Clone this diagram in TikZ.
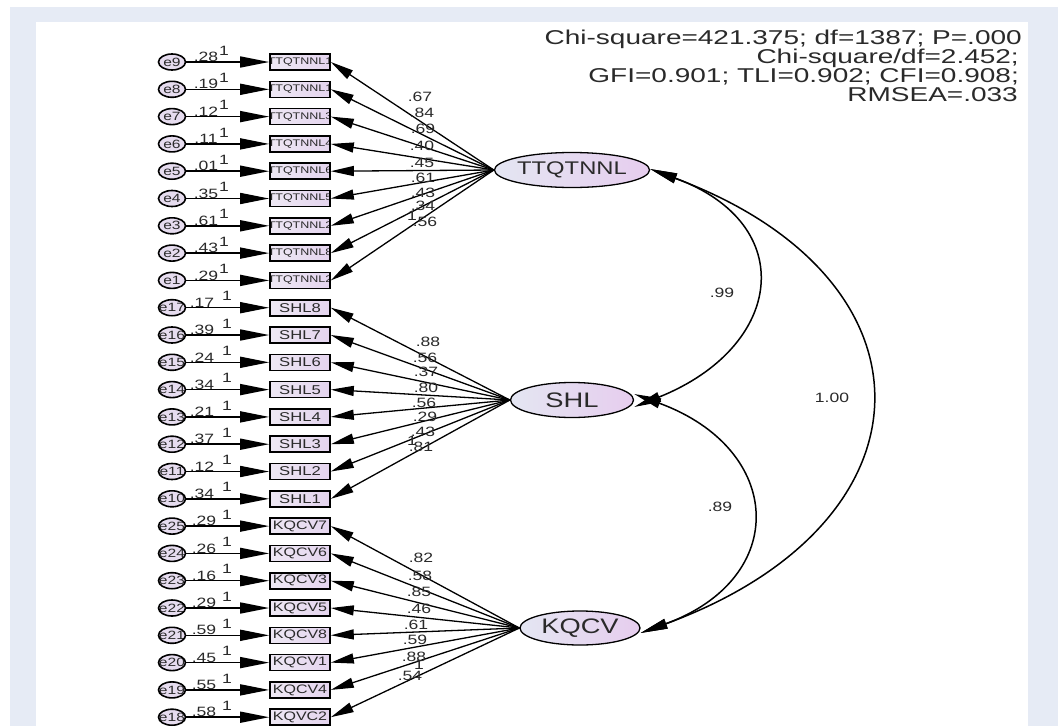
\documentclass[tikz,border=0pt]{standalone}
\usepackage{fontspec}
\usetikzlibrary{shapes.geometric,arrows.meta}
\newfontfamily\af[FakeStretch=1.3]{Liberation Sans}
\newfontfamily\hf[FakeStretch=1.4]{Liberation Sans}
\newcommand\fsz[2]{\af\fontsize{#1}{#2}\selectfont}
\definecolor{band}{HTML}{E6EBF5}
\definecolor{latl}{HTML}{E4E6F2}
\definecolor{latr}{HTML}{E6CDEE}
\definecolor{boxl}{HTML}{EEE8F4}
\definecolor{boxr}{HTML}{E4D4EE}
\definecolor{errf}{HTML}{E6DCEF}
\definecolor{ink}{HTML}{2A2A2A}
\tikzset{
  err/.style={ellipse, draw, line width=1.6pt, fill=errf, minimum width=27pt, minimum height=16pt, inner sep=0pt,
    path picture={\node[font=\fsz{12}{12}, text=ink, inner sep=0pt] at (path picture bounding box.center) {#1};}},
  obs/.style={rectangle, draw, line width=1.6pt, left color=boxl, right color=boxr, minimum width=60pt, minimum height=16pt, inner sep=0pt,
    path picture={\node[text=ink, inner sep=0pt] at (path picture bounding box.center) {#1};}},
  lat/.style={ellipse, draw, line width=1.3pt, left color=latl, right color=latr, minimum width=125pt, minimum height=35pt, inner sep=0pt, text=ink},
  etip/.style={-{Triangle[length=29pt,width=11pt]}, line width=1.5pt},
  ltip/.style={-{Triangle[length=23pt,width=10pt]}, line width=1.3pt},
  ctip/.style={{Triangle[length=27pt,width=10pt]}-{Triangle[length=27pt,width=10pt]}, line width=1.5pt},
  num/.style={font=\fsz{13.5}{14}, text=ink, inner sep=0pt},
  hdr/.style={anchor=base east, font=\hf\fontsize{20}{20}\selectfont, text=ink, inner sep=0pt},
}
\begin{document}
\begin{tikzpicture}[x=1pt,y=-1pt]
\useasboundingbox (0,0) rectangle (1058,726);
\fill[band] (10,7) rectangle (1058,726);
\fill[white] (36,22) rectangle (1028,726);

% header
\node[hdr] (h1) at (1022,44) {Chi-square=421.375; df=1387; P=.000};
\node[hdr] (h2) at (1019,63) {Chi-square/df=2.452;};
\node[hdr] (h3) at (1019,82) {GFI=0.901; TLI=0.902; CFI=0.908;};
\node[hdr] (h4) at (1018,101) {RMSEA=.033};

% latent
\node[lat, font=\fsz{18.3}{19}] (T) at (572,170) {TTQTNNL};
\node[lat, font=\fsz{21}{21}, minimum width=123pt] (S) at (572,400) {SHL};
\node[lat, font=\fsz{21}{21}, minimum width=120pt, minimum height=34pt] (K) at (580,628) {KQCV};

% TTQTNNL indicators
\foreach \k/\e/\b/\v in {0/e9/TTQTNNL1/.28, 1/e8/TTQTNNL1/.19, 2/e7/TTQTNNL3/.12, 3/e6/TTQTNNL4/.11, 4/e5/TTQTNNL6/.01, 5/e4/TTQTNNL5/.35, 6/e3/TTQTNNL2/.61, 7/e2/TTQTNNL8/.43, 8/e1/TTQTNNL2/.29}{
  \pgfmathsetmacro\yy{62+27.3*\k}
  \node[err=\e] (e\k) at (172,\yy) {};
  \node[obs={\fsz{9.6}{10}\b}] (b\k) at (300,\yy) {};
  \draw[etip] (e\k) -- (b\k);
  \draw[ltip] (T.west) -- (b\k.east);
  \node[num] at (206,\yy-5) {\v};
  \node[num] at (224,\yy-11.5) {1};
}
% SHL indicators
\foreach \k/\e/\b/\v in {9/e17/SHL8/.17, 10/e16/SHL7/.39, 11/e15/SHL6/.24, 12/e14/SHL5/.34, 13/e13/SHL4/.21, 14/e12/SHL3/.37, 15/e11/SHL2/.12, 16/e10/SHL1/.34}{
  \pgfmathsetmacro\yy{62+27.3*\k}
  \node[err=\e] (e\k) at (172,\yy) {};
  \node[obs={\fsz{12.8}{13}\b}] (b\k) at (300,\yy) {};
  \draw[etip] (e\k) -- (b\k);
  \draw[ltip] (S.west) -- (b\k.east);
  \node[num] at (202,\yy-5) {\v};
  \node[num] at (227,\yy-11.5) {1};
}
% KQCV indicators
\foreach \k/\e/\b/\v in {17/e25/KQCV7/.29, 18/e24/KQCV6/.26, 19/e23/KQCV3/.16, 20/e22/KQCV5/.29, 21/e21/KQCV8/.59, 22/e20/KQCV1/.45, 23/e19/KQCV4/.55, 24/e18/KQVC2/.58}{
  \pgfmathsetmacro\yy{62+27.3*\k}
  \node[err=\e] (e\k) at (172,\yy) {};
  \node[obs={\fsz{12.3}{13}\b}] (b\k) at (300,\yy) {};
  \draw[etip] (e\k) -- (b\k);
  \draw[ltip] (K.west) -- (b\k.east);
  \node[num] at (204,\yy-5) {\v};
  \node[num] at (227,\yy-11.5) {1};
}

% loading labels
\foreach \x/\y/\t in {420/97/.67, 422/113/.84, 423/129/.69, 422/146/.40, 422/163/.45, 423/178/.61, 423/193/.43, 423/206/.34, 425/222/.56, 412/216/1,
  428/342/.88, 425/358/.56, 426/372/.37, 426/388/.80, 424/403/.56, 425/417/.29, 423/432/.43, 421/447/.81, 412/441/1,
  421/558/.82, 420/576/.58, 419/592/.85, 419/609/.46, 416/625/.61, 415/640/.59, 414/657/.88, 419/665/1, 410/676/.54}
  \node[num] at (\x,\y) {\t};

% covariances
\draw[ctip] ([yshift=1pt]T.east) .. controls +(150,55) and +(150,-60) .. ([yshift=-7pt]S.east);
\draw[ctip] ([yshift=6pt]S.east) .. controls +(150,55) and +(150,-55) .. ([yshift=-5pt]K.east);
\draw[ctip] ([yshift=1pt]T.east) .. controls +(295,110) and +(300,-110) .. ([yshift=-5pt]K.east);
\node[num] (c1) at (722,293) {.99};
\node[num] (c2) at (720,507) {.89};
\node[num] (c3) at (832,398) {1.00};
\end{tikzpicture}
\end{document}
